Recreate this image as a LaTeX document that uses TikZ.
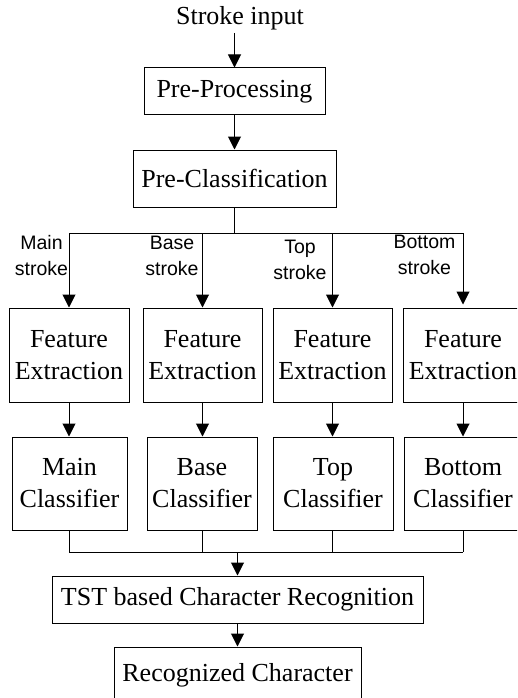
\documentclass[tikz,border=0pt]{standalone}
\usepackage{fontspec}
\setmainfont{Liberation Serif}
\newfontfamily\lblfont{Liberation Sans}
\usetikzlibrary{arrows.meta}
\tikzset{
  box/.style={draw, line width=1pt, rectangle, inner sep=0pt, align=center,
    font=\fontsize{26}{32}\selectfont},
  arr/.style={line width=1pt, -{Triangle[length=13pt,width=13pt]}},
  ln/.style={line width=1pt},
  lbl/.style={align=center, inner sep=0pt, font=\lblfont\fontsize{19.5}{26}\selectfont}
}
\begin{document}
\begin{tikzpicture}[x=1pt,y=-1pt]
\clip (0,0) rectangle (517,698);
\fill[white] (0,0) rectangle (517,698);
% top chain
\node[inner sep=0pt, font=\fontsize{26}{32}\selectfont] (in) at (240,18) {Stroke input};
\node[box, minimum width=181pt, minimum height=47pt] (pre) at (234.5,91.5) {Pre-Processing};
\node[box, minimum width=203pt, minimum height=57pt] (cls) at (234.5,178.5) {Pre-Classification};
% feature extraction
\node[box, minimum width=120pt, minimum height=94pt] (fe1) at (69,355) {Feature\\Extraction};
\node[box, minimum width=119pt, minimum height=94pt] (fe2) at (202.5,355) {Feature\\Extraction};
\node[box, minimum width=119pt, minimum height=94pt] (fe3) at (332.5,355) {Feature\\Extraction};
\node[box, minimum width=120pt, minimum height=94pt] (fe4) at (463,355) {Feature\\Extraction};
% classifiers
\node[box, minimum width=115pt, minimum height=93pt] (cl1) at (69.5,483.5) {Main\\Classifier};
\node[box, minimum width=110pt, minimum height=93pt] (cl2) at (202,483.5) {Base\\Classifier};
\node[box, minimum width=120pt, minimum height=93pt] (cl3) at (333,483.5) {Top\\Classifier};
\node[box, minimum width=118pt, minimum height=93pt] (cl4) at (463,483.5) {Bottom\\Classifier};
% bottom
\node[box, minimum width=371pt, minimum height=47pt] (tst) at (237.5,599.5) {TST based Character Recognition};
\node[box, minimum width=247pt, minimum height=56pt] (rec) at (237.5,675) {Recognized Character};
% labels
\node[lbl] (l1) at (41.5,256) {Main\\stroke};
\node[lbl] (l2) at (172,256) {Base\\stroke};
\node[lbl] (l3) at (300,259.5) {Top\\stroke};
\node[lbl] (l4) at (424.5,255) {Bottom\\stroke};
% coordinates
\coordinate (st) at (234.5,33);
\coordinate (sp) at (234.5,233);
\coordinate (j1) at (69,233);
\coordinate (j2) at (202.5,233);
\coordinate (j3) at (332.5,233);
\coordinate (j4) at (463,233);
\coordinate (m1) at (69,552);
\coordinate (m2) at (202.5,552);
\coordinate (m3) at (332.5,552);
\coordinate (m4) at (463,552);
\coordinate (mj) at (237.5,552);
% connectors
\draw[arr] (st) -- (pre.north);
\draw[arr] (pre) -- (cls);
\draw[ln] (cls.south) -- (sp);
\draw[ln] (j1) -- (j4);
\draw[arr] (j1) -- (fe1.north);
\draw[arr] (j2) -- (fe2.north);
\draw[arr] (j3) -- (fe3.north);
\draw[arr, shorten >=3pt] (j4) -- (fe4.north);
\draw[arr] (fe1.south) -- (fe1.south |- cl1.north);
\draw[arr] (fe2.south) -- (fe2.south |- cl2.north);
\draw[arr] (fe3.south) -- (fe3.south |- cl3.north);
\draw[arr] (fe4.south) -- (fe4.south |- cl4.north);
\draw[ln] (cl1.south -| m1) -- (m1);
\draw[ln] (cl2.south -| m2) -- (m2);
\draw[ln] (cl3.south -| m3) -- (m3);
\draw[ln] (cl4.south -| m4) -- (m4);
\draw[ln] (m1) -- (m4);
\draw[arr] (mj) -- (tst.north);
\draw[arr] (tst) -- (rec);
\end{tikzpicture}
\end{document}
